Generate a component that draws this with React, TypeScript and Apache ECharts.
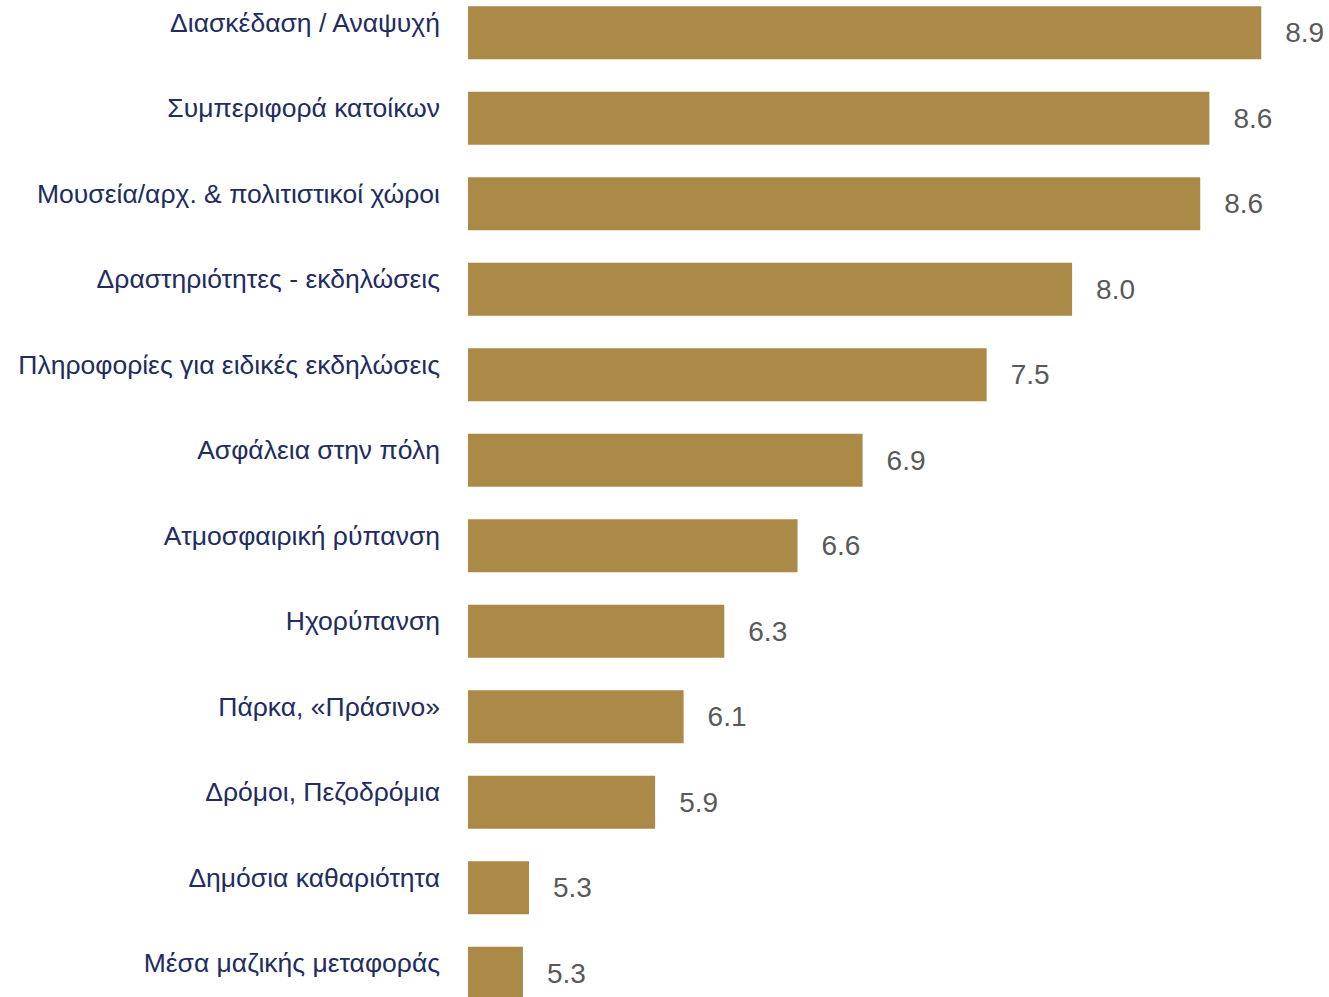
import React, { useEffect, useRef } from "react";
import * as echarts from "echarts";

const categories = [
  "Διασκέδαση / Αναψυχή",
  "Συμπεριφορά κατοίκων",
  "Μουσεία/αρχ. & πολιτιστικοί χώροι",
  "Δραστηριότητες - εκδηλώσεις",
  "Πληροφορίες για ειδικές εκδηλώσεις",
  "Ασφάλεια στην πόλη",
  "Ατμοσφαιρική ρύπανση",
  "Ηχορύπανση",
  "Πάρκα, «Πράσινο»",
  "Δρόμοι, Πεζοδρόμια",
  "Δημόσια καθαριότητα",
  "Μέσα μαζικής μεταφοράς",
];

const values = [8.9, 8.645, 8.6, 7.97, 7.55, 6.94, 6.62, 6.26, 6.06, 5.92, 5.3, 5.27];

const axisMin = 5;
const axisMax = 9;

export default function App() {
  const ref = useRef<HTMLDivElement>(null);
  useEffect(() => {
    if (!ref.current) return;
    const chart = echarts.init(ref.current, undefined, { renderer: "svg" });
    chart.setOption({
      animation: false,
      backgroundColor: "#ffffff",
      grid: { left: 468, width: 813.6, top: 0, bottom: 0, containLabel: false },
      xAxis: {
        type: "value",
        min: axisMin,
        max: axisMax,
        show: false,
      },
      yAxis: {
        type: "category",
        inverse: true,
        data: categories,
        axisLine: { show: false },
        axisTick: { show: false },
        splitLine: { show: false },
        axisLabel: {
          margin: 28,
          color: "#222c5e",
          fontSize: 26.5,
          fontFamily: "Liberation Sans, Arial, sans-serif",
          verticalAlign: "bottom",
          lineHeight: 20,
        },
      },
      series: [
        {
          type: "bar",
          data: values,
          barWidth: 53,
          itemStyle: { color: "#ab8947" },
          label: {
            show: true,
            position: "right",
            distance: 24,
            color: "#595959",
            fontSize: 28,
            fontFamily: "Liberation Sans, Arial, sans-serif",
            formatter: (p: any) => Number(p.value).toFixed(1),
          },
        },
      ],
    });
    return () => chart.dispose();
  }, []);
  return (
    <div
      ref={ref}
      style={{ position: "fixed", left: 0, top: -10, width: 1329, height: 1026 }}
    />
  );
}
